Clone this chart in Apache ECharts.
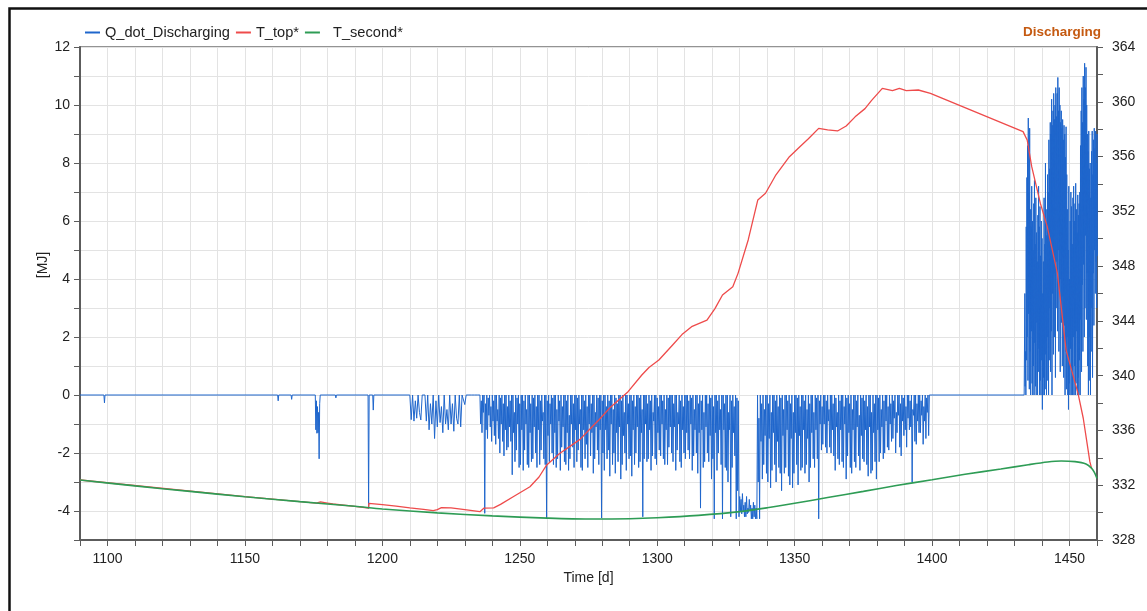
<!DOCTYPE html>
<html>
<head>
<meta charset="utf-8">
<script src="https://cdn.jsdelivr.net/npm/echarts@6/dist/echarts.min.js"></script>
<style>
  html, body { margin: 0; padding: 0; background: #fff; }
  #chart { width: 1147px; height: 611px; }
</style>
</head>
<body>
<div id="chart"></div>
<script>
// ---- Q_dot_Discharging [MJ] ----
// isolated discharge events and quiet stretches (explicit zeros between them)
const qSparseDays = [1090, 1098.7, 1098.9, 1099.1, 1161.9, 1162.1, 1162.3, 1166.8, 1167.0, 1167.2,
  1175.6, 1175.8, 1176.0, 1176.2, 1176.4, 1176.6, 1176.8, 1177.0, 1177.2, 1177.4,
  1182.9, 1183.1, 1183.3, 1194.8, 1195.0, 1195.2, 1196.5, 1196.7, 1196.9, 1210.0, 1399.0];
const qSparseValues = [0, 0, -0.27, 0, 0, -0.2, 0, 0, -0.15, 0,
  0, -1.2, -0.2, -1.32, -0.4, -1.3, -0.6, -2.2, -0.3, 0,
  0, -0.1, 0, 0, -3.91, 0, 0, -0.52, 0, 0, 0];

// first scattered events, one sample every half day
const qEarlyStart = 1210.5;
const qEarlyStep = 0.5;
const qEarlyValues = [
  -0.85, 0, -0.9, -0.2, -0.8, 0, -0.6, -0.86, 0, 0,         // 1210.5
  0, -0.9, 0, -1.2, -0.3, -1.0, 0, -1.5, -0.2, -1.1,        // 1215.5
  0, -0.95, -0.4, -1.3, 0, -1.0, -0.5, -1.2, 0, -1.0,       // 1220.5
  -0.3, -1.25, 0, -0.8, -1.0, 0, -1.1, 0, 0, -0.33,         // 1225.5
  0, 0, 0, 0, 0, 0, 0, 0, 0, 0                              // 1230.5
];

// dense discharging block: upper and lower swing of each half-day window
// (upper value at the window start, lower value a quarter day later)
const qDenseStart = 1235.5;
const qDenseStep = 0.5;
const qDenseHigh = [
  0, -0.2, 0, 0, -0.3, 0, -0.1, 0, -0.4, 0,          // 1235.5
  -0.2, 0, 0, -0.5, 0, -0.1, 0, -0.3, 0, 0,          // 1240.5
  -0.4, 0, -0.2, 0, 0, -0.6, 0, -0.1, 0, -0.3,       // 1245.5
  0, 0, -0.2, 0, -0.5, 0, 0, -0.3, 0, -0.1,          // 1250.5
  0, -0.4, 0, 0, -0.2, 0, -0.6, 0, 0, -0.2,          // 1255.5
  0, -0.3, 0, -0.1, 0, 0, -0.5, 0, -0.2, 0,          // 1260.5
  -0.4, 0, 0, -0.2, 0, -0.7, 0, 0, -0.3, 0,          // 1265.5
  0, -0.1, 0, -0.5, 0, 0, -0.2, 0, -0.4, 0,          // 1270.5
  0, -0.3, 0, 0, -0.6, 0, -0.1, 0, 0, -0.2,          // 1275.5
  0, 0, -0.4, 0, -0.2, 0, 0, -0.5, 0, -0.1,          // 1280.5
  -0.3, 0, 0, -0.2, 0, -0.6, 0, 0, -0.3, 0,          // 1285.5
  0, -0.2, 0, -0.4, 0, 0, -0.1, 0, -0.5, 0,          // 1290.5
  0, 0, -0.3, 0, -0.2, 0, -0.6, 0, 0, -0.1,          // 1295.5
  -0.4, 0, 0, -0.2, 0, -0.5, 0, -0.1, 0, 0,          // 1300.5
  0, -0.3, 0, 0, -0.6, 0, -0.2, 0, -0.4, 0,          // 1305.5
  0, 0, -0.2, 0, -0.1, 0, -0.5, 0, 0, -0.3,          // 1310.5
  0, -0.2, 0, -0.6, 0, 0, -0.3, 0, -0.1, 0,          // 1315.5
  -0.4, 0, 0, -0.2, 0, -0.5, 0, 0, -0.3, 0,          // 1320.5
  0, -0.6, 0, -0.2, 0, -0.4, 0, -0.1, -0.2, -3.5,    // 1325.5
  -3.6, -3.4, -3.8, -3.7, -3.5, -3.9, -3.6, -3.8, -3.9, -3.7, // 1330.5
  -3.8, -3.9, 0, -0.8, 0, -0.3, 0, -0.5, 0, 0,       // 1335.5
  -0.3, 0, -0.6, 0, 0, -0.2, 0, -0.4, 0, -0.1,       // 1340.5
  0, -0.5, 0, 0, -0.2, 0, -0.3, 0, -0.6, 0,          // 1345.5
  0, -0.1, 0, -0.4, 0, 0, -0.2, 0, -0.5, 0,          // 1350.5
  -0.3, 0, 0, -0.6, 0, -0.1, 0, -0.2, 0, -0.4,       // 1355.5
  0, 0, -0.2, 0, -0.5, 0, 0, -0.3, 0, -0.1,          // 1360.5
  -0.6, 0, -0.2, 0, 0, -0.4, 0, -0.1, 0, -0.3,       // 1365.5
  0, -0.5, 0, 0, -0.2, 0, -0.7, 0, -0.1, 0,          // 1370.5
  -0.2, 0, -0.4, 0, 0, -0.6, 0, -0.3, 0, 0,          // 1375.5
  -0.1, 0, -0.5, 0, -0.2, 0, 0, -0.4, 0, -0.3,       // 1380.5
  0, -0.2, 0, -0.6, 0, 0, -0.3, 0, -0.1, 0,          // 1385.5
  -0.4, 0, 0, -0.2, 0, -0.5, 0, 0, -0.3, 0,          // 1390.5
  0, -0.2, 0, -0.4, 0, -0.1, 0                       // 1395.5
];
const qDenseLow = [
  -1.0, -1.3, -0.6, -4.08, -1.2, -1.5, -0.7, -1.1, -1.6, -0.9,   // 1235.5
  -1.4, -1.7, -0.9, -1.5, -2.0, -1.0, -1.6, -2.1, -1.2, -1.9,    // 1240.5
  -1.8, -1.1, -1.6, -2.75, -1.3, -2.3, -1.9, -1.0, -2.5, -2.4,   // 1245.5
  -1.2, -2.6, -1.9, -1.0, -2.4, -2.5, -1.3, -2.3, -2.2, -1.1,    // 1250.5
  -2.0, -2.5, -1.2, -2.4, -1.9, -0.9, -2.2, -2.4, -4.24, -1.4,   // 1255.5
  -2.3, -1.0, -2.0, -2.4, -1.3, -2.5, -2.2, -0.9, -2.6, -1.8,    // 1260.5
  -1.1, -2.3, -2.4, -1.3, -2.6, -2.2, -1.0, -1.8, -2.5, -1.2,    // 1265.5
  -2.3, -1.9, -1.0, -2.5, -2.6, -1.2, -2.2, -1.7, -2.5, -1.0,    // 1270.5
  -2.1, -1.3, -2.7, -2.2, -1.1, -1.9, -2.4, -1.2, -4.24, -2.0,   // 1275.5
  -2.6, -1.2, -2.2, -1.9, -2.8, -1.0, -2.4, -2.0, -2.7, -1.3,    // 1280.5
  -2.3, -1.1, -2.9, -2.4, -1.4, -2.0, -2.6, -1.0, -2.2, -2.1,    // 1285.5
  -2.8, -1.2, -2.4, -2.0, -1.1, -2.5, -2.3, -1.3, -4.2, -2.2,    // 1290.5
  -1.0, -2.3, -2.2, -1.2, -2.6, -2.1, -0.9, -2.2, -2.4, -1.3,    // 1295.5
  -1.9, -2.1, -1.0, -2.2, -2.4, -1.2, -2.4, -1.8, -1.1, -2.0,    // 1300.5
  -2.3, -1.1, -2.6, -1.9, -1.0, -2.3, -2.5, -1.2, -2.0, -2.2,    // 1305.5
  -1.3, -1.9, -2.2, -1.0, -2.6, -2.1, -1.2, -2.0, -2.7, -1.3,    // 1310.5
  -3.9, -1.2, -2.5, -2.3, -1.1, -2.0, -2.3, -1.4, -2.9, -2.2,    // 1315.5
  -4.27, -1.3, -2.6, -2.0, -1.2, -2.4, -4.27, -1.2, -2.5, -2.6,  // 1320.5
  -3.0, -1.2, -4.2, -2.5, -1.3, -2.1, -4.27, -3.3, -4.2, -4.0,   // 1325.5
  -4.1, -4.0, -4.2, -4.2, -4.1, -4.05, -4.0, -4.27, -4.27, -4.2, // 1330.5
  -4.27, -4.27, -3.0, -4.27, -1.6, -2.9, -2.4, -1.4, -2.7, -3.0, // 1335.5
  -1.5, -3.2, -2.6, -1.3, -2.4, -3.0, -1.6, -2.5, -2.7, -3.3,    // 1340.5
  -1.4, -2.7, -2.5, -1.2, -2.8, -3.1, -1.5, -3.2, -2.7, -1.3,    // 1345.5
  -2.4, -3.1, -1.4, -2.6, -2.5, -1.2, -2.7, -2.4, -1.5, -3.0,    // 1350.5
  -2.5, -1.3, -2.2, -2.5, -1.2, -2.2, -4.27, -1.0, -1.9, -1.7,   // 1355.5
  -1.0, -1.8, -2.0, -0.9, -1.8, -2.0, -1.2, -2.1, -2.6, -1.1,    // 1360.5
  -2.2, -2.4, -1.2, -2.3, -2.5, -1.0, -2.9, -2.1, -1.3, -2.5,    // 1365.5
  -2.7, -1.2, -2.3, -2.5, -1.1, -2.1, -2.6, -1.4, -2.2, -2.3,    // 1370.5
  -1.2, -2.4, -2.8, -1.1, -2.7, -2.6, -1.3, -2.3, -2.9, -1.2,    // 1375.5
  -2.3, -2.0, -1.1, -2.2, -2.0, -0.9, -1.8, -1.9, -1.0, -1.6,    // 1380.5
  -1.5, -0.8, -2.0, -1.3, -0.7, -1.8, -2.1, -0.9, -1.4, -1.2,    // 1385.5
  -1.8, -0.8, -1.2, -1.1, -3.0, -0.7, -1.6, -1.7, -0.9, -1.3,    // 1390.5
  -1.3, -0.7, -1.7, -0.9, -1.5, -0.6, -1.4                       // 1395.5
];

// late block with heat flowing back: upper swing every quarter day,
// lower swing an eighth of a day after it
const qLateStart = 1433.5;
const qLateStep = 0.25;
const qLateHigh = [
  0, 3.5, 1.5, 5.8, 7.5, 8.6, 9.55, 7.0,      // 1433.5
  9.2, 6.4, 5.8, 7.2, 6.0, 5.0, 6.6, 7.4,     // 1435.5
  5.2, 6.8, 5.6, 4.6, 6.2, 7.2, 5.8, 6.5,     // 1437.5
  4.8, 6.0, 5.4, 3.5, 4.6, 6.8, 5.2, 8.0,     // 1439.5
  6.4, 5.5, 7.6, 7.0, 8.8, 7.8, 9.4, 9.0,     // 1441.5
  10.2, 9.3, 9.8, 10.4, 9.5, 10.0, 10.6, 9.6, // 1443.5
  10.4, 10.95, 9.8, 10.6, 10.0, 9.4, 9.8, 9.2, // 1445.5
  9.5, 8.8, 9.3, 9.0, 8.2, 9.25, 7.6, 6.4,    // 1447.5
  5.0, 7.2, 4.0, 6.0, 7.0, 6.5, 5.2, 6.8,     // 1449.5
  7.2, 6.0, 6.6, 7.3, 6.4, 5.6, 6.9, 6.2,     // 1451.5
  6.6, 7.0, 8.6, 9.8, 10.6, 9.4, 11.0, 10.2,  // 1453.5
  11.44, 10.6, 11.3, 10.0, 9.0, 8.4, 9.1, 7.8, // 1455.5
  8.0, 6.8, 8.4, 9.1, 7.6, 8.8, 9.2, 8.5,     // 1457.5
  9.1, 8.0, 9.0                               // 1459.5
];
const qLateLow = [
  0, 0.3, 0, 1.2, 2.0, 0.5, 2.8, 0.2,         // 1433.5
  1.5, 0, 2.2, 0.4, 0, 1.0, 0, 1.8,           // 1435.5
  0.3, 0, 2.5, 0, 0.8, 1.6, 0, 0.5,           // 1437.5
  0, 1.2, -0.5, 0, 0.6, 0, 0.2, 1.4,          // 1439.5
  0, 0.5, 2.0, 0, 1.2, 3.0, 0.8, 2.2,         // 1441.5
  0, 3.5, 1.4, 4.2, 2.0, 0.6, 3.0, 4.6,       // 1443.5
  2.2, 5.0, 1.5, 3.6, 0.8, 4.0, 2.5, 1.0,     // 1445.5
  3.4, 0.6, 2.4, 0, 1.5, 0.2, 2.0, 0,         // 1447.5
  -0.5, 0.4, 0, 1.6, 0, 0.8, 0, 2.0,          // 1449.5
  0, 1.0, 0, 0.4, 2.2, 0, 0.6, 0,             // 1451.5
  1.2, 0, 2.6, 0.8, 3.8, 1.5, 4.5, 2.0,       // 1453.5
  3.0, 5.5, 2.6, 4.2, 1.0, 0, 2.0, 0.5,       // 1455.5
  0, 1.5, 3.0, 0.6, 4.2, 2.4, 5.0, 3.5,       // 1457.5
  4.6, 3.0, 4.8                               // 1459.5
];

// ---- temperatures [K] ----
const tTopDays = [1090, 1150, 1170, 1176, 1177.5, 1180, 1182, 1190, 1195.0, 1195.1,
  1200, 1205, 1210, 1215, 1218.5, 1220, 1221.5, 1225, 1230, 1235.5,
  1237, 1240.5, 1243, 1247.6, 1253.7, 1257, 1259.8, 1264.6, 1268, 1271.9,
  1275, 1278.75, 1283, 1289.4, 1294.4, 1297, 1300.6, 1305.6, 1309, 1312.5,
  1318.1, 1321, 1323.75, 1327.5, 1329.4, 1333.1, 1336.6, 1339.4, 1343, 1348.1,
  1351.9, 1355, 1358.75, 1362, 1365.6, 1368.75, 1372, 1375.6, 1378, 1381.9,
  1385.6, 1388.1, 1390.6, 1395, 1399.4, 1433.1, 1434.6, 1436.25, 1439.4, 1441.9,
  1445.6, 1448.75, 1453.1, 1455, 1457.4, 1458];
const tTopValues = [332.38, 331.16, 330.80, 330.70, 330.78, 330.70, 330.63, 330.46, 330.32, 330.68,
  330.58, 330.48, 330.34, 330.24, 330.14, 330.22, 330.36, 330.34, 330.22, 330.07,
  330.33, 330.35, 330.6, 331.16, 331.89, 332.6, 333.48, 334.33, 334.8, 335.35,
  336.0, 336.76, 337.7, 338.83, 340.05, 340.6, 341.14, 342.24, 343.0, 343.58,
  344.06, 344.9, 345.89, 346.5, 347.47, 349.91, 352.83, 353.32, 354.6, 355.99,
  356.72, 357.3, 358.06, 357.95, 357.87, 358.23, 358.9, 359.5, 360.1, 360.98,
  360.81, 360.98, 360.81, 360.86, 360.62, 357.82, 357.21, 355.26, 352.58, 350.88,
  347.47, 341.87, 338.71, 336.89, 333.72, 333.25];

const tSecondDays = [1090, 1110, 1130, 1150, 1170, 1190, 1200, 1220, 1240, 1260,
  1275, 1290, 1300, 1315, 1330, 1340, 1350, 1362, 1375, 1387,
  1400, 1412, 1425, 1435, 1442, 1447, 1452, 1456, 1458, 1459, 1460];
const tSecondValues = [332.38, 331.95, 331.55, 331.16, 330.80, 330.46, 330.26, 329.98, 329.76, 329.60,
  329.53, 329.55, 329.62, 329.80, 330.07, 330.35, 330.68, 331.10, 331.55, 331.98,
  332.40, 332.80, 333.18, 333.50, 333.70, 333.77, 333.72, 333.55, 333.25, 332.95, 332.50];

const seriesNames = ['Q_dot_Discharging', 'T_top*', 'T_second*'];
const seriesColors = ['#1f66cc', '#ee4b4b', '#2e9c55'];

// assemble the heat-flow trace in time order
const qData = [];
qSparseDays.forEach((d, i) => qData.push([d, qSparseValues[i]]));
qEarlyValues.forEach((v, i) => qData.push([qEarlyStart + i * qEarlyStep, v]));
qDenseHigh.forEach((v, i) => qData.push([qDenseStart + i * qDenseStep, v]));
qDenseLow.forEach((v, i) => qData.push([qDenseStart + i * qDenseStep + qDenseStep / 2, v]));
qLateHigh.forEach((v, i) => qData.push([qLateStart + i * qLateStep, v]));
qLateLow.forEach((v, i) => qData.push([qLateStart + i * qLateStep + qLateStep / 2, v]));
qData.sort((a, b) => a[0] - b[0]);

const tTopData = tTopDays.map((d, i) => [d, tTopValues[i]]);
const tSecondData = tSecondDays.map((d, i) => [d, tSecondValues[i]]);

const font = '"Liberation Sans", Arial, Helvetica, sans-serif';
const axisGray = '#5c5c5c';
const labelColor = '#222';

const chart = echarts.init(document.getElementById('chart'), null, { renderer: 'canvas' });
chart.setOption({
  animation: false,
  backgroundColor: '#ffffff',
  textStyle: { fontFamily: font },
  color: seriesColors,
  grid: {
    left: 80, right: 50, top: 47, bottom: 71,
    show: true, borderColor: '#707070', borderWidth: 1.5, backgroundColor: 'transparent'
  },
  legend: {
    left: 80, top: 20,
    icon: 'rect', itemWidth: 15, itemHeight: 2, itemGap: 6,
    data: seriesNames,
    textStyle: { fontSize: 14.6, color: labelColor, fontFamily: font },
    formatter: name => (name === 'T_second*' ? '  ' + name : name)
  },
  xAxis: {
    type: 'value', min: 1090, max: 1460, interval: 10,
    name: 'Time [d]', nameLocation: 'middle', nameGap: 30,
    nameTextStyle: { fontSize: 14, color: labelColor, fontFamily: font },
    axisLine: { onZero: false, lineStyle: { color: axisGray, width: 2 } },
    axisTick: { length: 6, lineStyle: { color: axisGray, width: 1 } },
    axisLabel: {
      fontSize: 14, color: labelColor, margin: 12, fontFamily: font,
      formatter: v => (v % 50 === 0 ? String(v) : '')
    },
    splitLine: { show: true, lineStyle: { color: '#e3e3e3', width: 1 } }
  },
  yAxis: [
    {
      type: 'value', position: 'left', min: -5, max: 12, interval: 1,
      axisLine: { show: true, onZero: false, lineStyle: { color: axisGray, width: 2 } },
      axisTick: { show: true, length: 6, lineStyle: { color: axisGray, width: 1 } },
      axisLabel: {
        fontSize: 14, color: labelColor, margin: 10, fontFamily: font,
        formatter: v => (v % 2 === 0 ? String(v) : '')
      },
      splitLine: { show: true, lineStyle: { color: '#e3e3e3', width: 1 } }
    },
    {
      type: 'value', position: 'right', min: 328, max: 364, interval: 2,
      axisLine: { show: true, onZero: false, lineStyle: { color: axisGray, width: 2 } },
      axisTick: { show: true, length: 6, lineStyle: { color: axisGray, width: 1 } },
      axisLabel: {
        fontSize: 14, color: labelColor, margin: 15, fontFamily: font,
        formatter: v => (v % 4 === 0 ? String(v) : '')
      },
      splitLine: { show: false }
    }
  ],
  series: [
    {
      name: seriesNames[0], type: 'line', yAxisIndex: 0, data: qData,
      symbol: 'none', showSymbol: false, sampling: null,
      lineStyle: { color: seriesColors[0], width: 1 },
      itemStyle: { color: seriesColors[0] }
    },
    {
      name: seriesNames[1], type: 'line', yAxisIndex: 1, data: tTopData,
      symbol: 'none', showSymbol: false,
      lineStyle: { color: seriesColors[1], width: 1.3 },
      itemStyle: { color: seriesColors[1] }
    },
    {
      name: seriesNames[2], type: 'line', yAxisIndex: 1, data: tSecondData,
      symbol: 'none', showSymbol: false, smooth: 0.3,
      lineStyle: { color: seriesColors[2], width: 1.6 },
      itemStyle: { color: seriesColors[2] }
    }
  ],
  graphic: [
    {
      type: 'polyline', silent: true,
      shape: { points: [[9.5, 611], [9.5, 8.5], [1147, 8.5]] },
      style: { stroke: '#111', lineWidth: 2.5, fill: null }
    },
    {
      type: 'text', silent: true, x: 43.5, y: 265, rotation: Math.PI / 2,
      style: { text: '[MJ]', fill: labelColor, font: '14px ' + font, align: 'center', verticalAlign: 'middle' }
    },
    {
      type: 'text', silent: true, x: 1101, y: 32.5,
      style: { text: 'Discharging', fill: '#c55a11', font: 'bold 13.5px ' + font, align: 'right', verticalAlign: 'middle' }
    }
  ]
});
</script>
</body>
</html>
